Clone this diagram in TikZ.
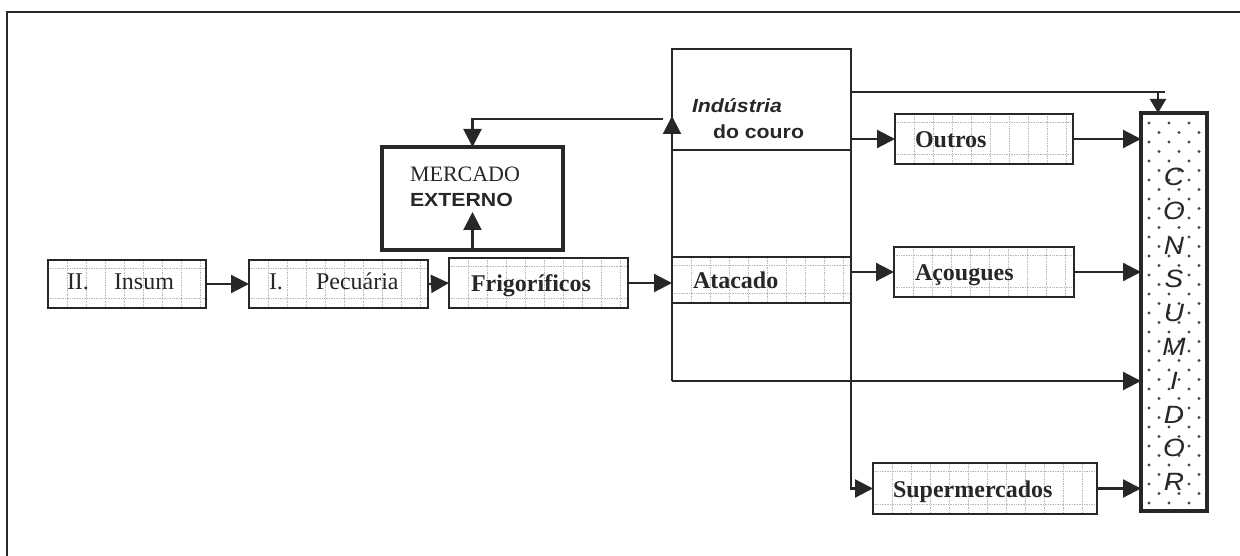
\documentclass[tikz,border=0pt]{standalone}
\usepackage{fontspec}
\setmainfont{Liberation Serif}
\newfontfamily\arialf[FakeStretch=1.12]{Liberation Sans}
\usetikzlibrary{arrows.meta}
\definecolor{inkc}{HTML}{262828}
\begin{document}
\begin{tikzpicture}[x=1pt,y=-1pt,
  every node/.style={outer sep=0pt},
  ink/.style={draw=inkc, line width=2.2pt},
  arr/.style={ink, -{Triangle[length=18pt,width=18pt]}},
  arrsmall/.style={ink, -{Triangle[length=14pt,width=16pt]}},
  gridln/.style={draw=black!28, line width=0.7pt, densely dotted},
  gridpic/.style={path picture={
    \foreach \k in {1,...,12}{\draw[gridln] ([xshift=\k*19pt]path picture bounding box.south west) -- ([xshift=\k*19pt]path picture bounding box.north west);}
    \draw[gridln] ([yshift=-8pt]path picture bounding box.north west) -- ([yshift=-8pt]path picture bounding box.north east);
    \draw[gridln] ([yshift=10pt]path picture bounding box.south west) -- ([yshift=10pt]path picture bounding box.south east);}},
  box/.style={draw=inkc, line width=2.5pt, fill=white, inner sep=0pt, gridpic},
  colbox/.style={draw=inkc, line width=2.2pt, inner sep=0pt},
  thickbox/.style={draw=inkc, line width=4pt, inner sep=0pt},
  tm/.style={inner sep=0pt, anchor=base west, text=inkc, font=\fontsize{24}{27}\selectfont},
  tmb/.style={tm, font=\fontsize{24}{27}\selectfont\bfseries},
  sf/.style={inner sep=0pt, anchor=base west, text=inkc, font=\arialf\fontsize{19}{22}\selectfont\bfseries},
  cl/.style={inner sep=0pt, text=inkc, font=\arialf\fontsize{25}{27}\selectfont\itshape}
]
\useasboundingbox (0,0) rectangle (1240,556);
% outer frame
\coordinate (f1) at (7,556);
\coordinate (f2) at (7,12);
\coordinate (f3) at (1240,12);
\draw[ink] (f1) -- (f2) -- (f3);

% boxes
\node[box, minimum width=158pt, minimum height=48pt] (insum) at (127,284) {};
\node[box, minimum width=179pt, minimum height=48pt] (pec) at (338.5,284) {};
\node[box, minimum width=179pt, minimum height=50pt] (frigo) at (538.5,283) {};
\node[box, minimum width=178pt, minimum height=50pt] (outros) at (984,139) {};
\node[box, minimum width=180pt, minimum height=50pt] (acou) at (984,272) {};
\node[box, minimum width=224pt, minimum height=51pt] (super) at (985,488.5) {};
\node[colbox, minimum width=179pt, minimum height=101pt] (indus) at (761.5,99.5) {};
\node[colbox, fill=white, gridpic, minimum width=179pt, minimum height=46pt] (atac) at (761.5,280) {};
\node[thickbox, minimum width=181pt, minimum height=103pt] (merc) at (472.5,198.5) {};
\node[thickbox, fill=white, minimum width=66pt, minimum height=398pt,
  path picture={\foreach \r in {0,...,41}{\pgfmathsetmacro\off{mod(\r,2)*10}
    \foreach \c in {0,1,2}{\fill[black!72] ([xshift={8pt+\off pt+\c*20pt}, yshift={-10pt-\r*9.5pt}]path picture bounding box.north west) circle (1.6pt);}}}] (cons) at (1174,312) {};

% texts
\node[tm] (t-ii) at (67,290) {II.};
\node[tm] (t-insum) at (114,290) {Insum};
\node[tm] (t-i) at (269,290) {I.};
\node[tm] (t-pec) at (316,290) {Pecuária};
\node[tmb] (t-frigo) at (471,291) {Frigoríficos};
\node[tmb] (t-atac) at (693,288) {Atacado};
\node[tmb] (t-outros) at (915,148) {Outros};
\node[tmb] (t-acou) at (915,280) {Açougues};
\node[tmb] (t-super) at (893,497) {Supermercados};
\node[tm, font=\fontsize{22}{25}\selectfont] (t-merc) at (410,182) {MERCADO};
\node[sf] (t-ext) at (410,207) {EXTERNO};
\node[sf, font=\arialf\fontsize{19}{22}\selectfont\bfseries\itshape] (t-ind) at (692,113) {Indústria};
\node[sf] (t-couro) at (713,139) {do couro};
\foreach \ch/\yy in {C/177,O/211,N/246,S/279,U/313,M/347,I/381,D/415,O/448,R/482}
  \node[cl] (l\yy) at (1174,\yy) {\ch};

% column lines
\coordinate (cbl) at (672,381);
\draw[ink] (indus.south west) -- (atac.north west);
\draw[ink] (indus.south east) -- (atac.north east);
\draw[ink] (atac.south west) -- (cbl);

% connectors
\draw[arr] (insum.east) -- (pec.west);
\draw[arr] (pec.east) -- (frigo.west);
\draw[arr] (frigo.east) -- (frigo.east -| atac.west);
\coordinate (up1) at (672,116);
\draw[arr] (indus.south west) -- (up1);
\coordinate (mk) at (663,119);
\draw[arr] (mk) -| (merc.north);
\coordinate (mi) at (472.5,212);
\draw[arr] (merc.south) -- (mi);
\coordinate (t1) at (851,92);
\coordinate (t2) at (1165,92);
\coordinate (t3) at (1158,92);
\draw[ink] (t1) -- (t2);
\draw[arrsmall] (t3) -- (t3 |- cons.north);
\draw[arr] (outros.west -| indus.east) -- (outros.west);
\draw[arr] (outros.east) -- (outros.east -| cons.west);
\draw[arr] (acou.west -| atac.east) -- (acou.west);
\draw[arr] (acou.east) -- (acou.east -| cons.west);
\draw[arr] (cbl) -- (cbl -| cons.west);
\draw[arr] (atac.south east) |- (super.west);
\draw[arr] (super.east) -- (super.east -| cons.west);
\end{tikzpicture}
\end{document}
